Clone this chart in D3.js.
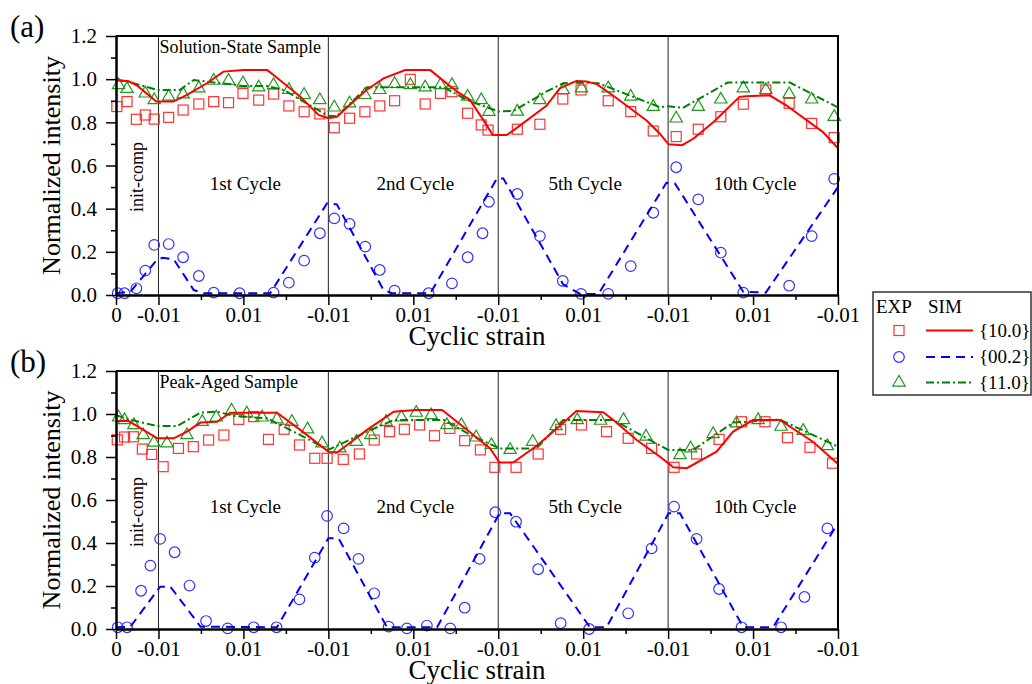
<!DOCTYPE html>
<html>
<head>
<meta charset="utf-8">
<script src="https://cdn.jsdelivr.net/npm/d3@7"></script>
<style>
body { margin: 0; background: #fff; }
text { font-family: "Liberation Serif", "Times New Roman", serif; }
</style>
</head>
<body>
<div id="chart"></div>
<script>
// x is the cumulative strain path (units of 0.01), y the normalized intensity
var xMajor = [0, 1, 3, 5, 7, 9, 11, 13, 15, 17];
var xLabels = ["0", "-0.01", "0.01", "-0.01", "0.01", "-0.01", "0.01", "-0.01", "0.01", "-0.01"];
var xMinor = [2, 4, 6, 8, 10, 12, 14, 16];
var cycleLines = [1, 5, 9, 13];
var cycleNames = ["1st Cycle", "2nd Cycle", "5th Cycle", "10th Cycle"];
var yMajor = [0, 0.2, 0.4, 0.6, 0.8, 1.0, 1.2];
var yMinor = [0.1, 0.3, 0.5, 0.7, 0.9, 1.1];

// (a) Solution-State Sample
var aExp10 = [[0.02,0.873],[0.26,0.896],[0.48,0.814],[0.69,0.834],[0.90,0.815],[1.24,0.823],[1.58,0.857],[1.95,0.885],[2.30,0.896],[2.65,0.891],[2.99,0.934],[3.36,0.903],[3.71,0.931],[4.07,0.876],[4.43,0.849],[4.80,0.839],[5.14,0.775],[5.50,0.819],[5.86,0.849],[6.21,0.876],[6.56,0.900],[6.93,0.999],[7.28,0.885],[7.64,0.934],[7.91,0.942],[8.28,0.842],[8.60,0.788],[8.76,0.764],[9.45,0.768],[9.98,0.791],[10.52,0.908],[10.95,0.950],[11.59,0.900],[12.12,0.850],[12.65,0.760],[13.19,0.734],[13.71,0.768],[14.24,0.826],[14.77,0.884],[15.30,0.950],[15.85,0.888],[16.38,0.795],[16.91,0.729]];
var aExp02 = [[0.04,0.008],[0.20,0.008],[0.48,0.031],[0.69,0.113],[0.90,0.232],[1.24,0.236],[1.58,0.175],[1.95,0.088],[2.30,0.011],[2.91,0.008],[3.71,0.011],[4.07,0.057],[4.43,0.159],[4.80,0.286],[5.14,0.355],[5.50,0.329],[5.87,0.224],[6.21,0.116],[6.56,0.020],[7.36,0.008],[7.91,0.054],[8.28,0.175],[8.63,0.286],[8.78,0.432],[9.45,0.468],[9.98,0.273],[10.52,0.065],[10.95,0.005],[11.59,0.005],[12.12,0.134],[12.65,0.381],[13.19,0.592],[13.71,0.443],[14.24,0.196],[14.77,0.011],[15.85,0.043],[16.38,0.273],[16.91,0.538]];
var aExp11 = [[0.06,0.973],[0.26,0.955],[0.69,0.934],[0.90,0.903],[1.24,0.919],[1.58,0.930],[1.95,0.958],[2.30,0.993],[2.65,0.993],[2.99,0.981],[3.36,0.962],[3.71,0.973],[4.07,0.950],[4.43,0.927],[4.80,0.903],[5.14,0.869],[5.50,0.888],[5.86,0.927],[6.21,0.950],[6.56,0.978],[6.93,0.973],[7.28,0.962],[7.64,0.973],[7.91,0.973],[8.28,0.919],[8.60,0.903],[8.78,0.849],[9.45,0.850],[9.98,0.903],[10.53,0.950],[10.96,0.958],[11.59,0.958],[12.12,0.919],[12.65,0.872],[13.19,0.818],[13.71,0.872],[14.24,0.906],[14.77,0.958],[15.30,0.950],[15.85,0.931],[16.38,0.906],[16.91,0.826]];
var aSim10 = [[0,0.996],[0.3,0.99],[0.5,0.97],[0.95,0.896],[1.35,0.896],[1.67,0.927],[2.14,0.981],[2.53,1.035],[3.0,1.042],[3.56,1.042],[3.71,1.019],[4.34,0.919],[4.77,0.834],[5.0,0.819],[5.2,0.826],[5.59,0.896],[5.9,0.950],[6.3,1.004],[6.81,1.042],[7.4,1.042],[8.03,0.942],[8.34,0.903],[8.70,0.795],[8.87,0.741],[9.20,0.741],[9.51,0.785],[10.14,0.878],[10.45,0.958],[10.84,0.992],[11.08,0.989],[11.32,0.977],[11.71,0.923],[12.50,0.807],[12.81,0.746],[13.01,0.698],[13.33,0.694],[13.60,0.725],[14.07,0.802],[14.68,0.918],[14.84,0.921],[15.39,0.925],[15.78,0.879],[16.64,0.756],[17,0.680]];
var aSim02 = [[0,0.008],[0.34,0.015],[0.97,0.165],[1.1,0.172],[1.36,0.165],[1.83,0.023],[2.06,0.008],[3.63,0.008],[4.97,0.425],[5.2,0.42],[6.3,0.023],[6.5,0.008],[7.4,0.008],[8.97,0.54],[9.12,0.54],[10.53,0.049],[10.93,0.005],[11.36,0.005],[12.96,0.52],[13.16,0.517],[14.77,0.015],[15.3,0.011],[17,0.50]];
var aSim11 = [[0,0.996],[0.3,0.988],[0.97,0.950],[1.5,0.950],[1.83,0.996],[2.3,0.985],[2.77,0.975],[2.99,0.968],[3.56,0.968],[3.95,0.950],[5.0,0.829],[5.2,0.829],[5.91,0.962],[7.72,0.962],[8.27,0.903],[9.01,0.850],[9.36,0.853],[10.14,0.943],[10.53,0.981],[10.96,0.984],[11.36,0.981],[12.81,0.870],[13.0,0.875],[13.35,0.867],[14.4,0.984],[15.87,0.984],[17,0.869]];

// (b) Peak-Aged Sample
var bExp10 = [[0.03,0.88],[0.2,0.893],[0.41,0.894],[0.62,0.837],[0.84,0.812],[1.11,0.755],[1.47,0.840],[1.82,0.848],[2.18,0.879],[2.54,0.902],[2.89,0.975],[3.24,0.988],[3.59,0.882],[3.96,0.929],[4.32,0.856],[4.68,0.794],[4.97,0.794],[5.35,0.789],[5.73,0.814],[6.08,0.879],[6.44,0.918],[6.79,0.929],[7.15,0.949],[7.50,0.899],[7.86,0.933],[8.21,0.876],[8.58,0.833],[8.92,0.752],[9.42,0.752],[9.94,0.814],[10.47,0.929],[10.96,0.949],[11.55,0.918],[12.06,0.887],[12.61,0.840],[13.14,0.752],[13.67,0.814],[14.20,0.882],[14.73,0.964],[15.28,0.964],[15.81,0.890],[16.34,0.845],[16.87,0.771]];
var bExp02 = [[0.04,0.008],[0.26,0.008],[0.59,0.178],[0.81,0.295],[1.04,0.419],[1.38,0.357],[1.73,0.202],[2.12,0.037],[2.63,0.003],[3.24,0.008],[3.78,0.008],[4.32,0.138],[4.68,0.332],[4.97,0.526],[5.36,0.468],[5.71,0.326],[6.08,0.166],[6.42,0.011],[6.85,0.003],[7.32,0.016],[7.87,0.003],[8.21,0.099],[8.56,0.326],[8.93,0.543],[9.42,0.499],[9.94,0.278],[10.47,0.027],[11.14,0.0],[12.06,0.073],[12.61,0.375],[13.14,0.569],[13.67,0.419],[14.20,0.186],[14.73,0.008],[15.66,0.008],[16.21,0.149],[16.75,0.468]];
var bExp11 = [[0.06,0.984],[0.20,0.972],[0.42,0.949],[0.64,0.902],[0.89,0.867],[1.20,0.864],[1.67,0.902],[2.03,0.964],[2.36,0.984],[2.72,1.016],[3.08,1.003],[3.44,0.984],[3.79,0.975],[4.14,0.964],[4.51,0.929],[4.85,0.864],[5.27,0.840],[5.66,0.871],[6.00,0.902],[6.36,0.964],[6.72,0.984],[7.07,1.006],[7.42,0.995],[7.79,0.949],[8.13,0.949],[8.48,0.891],[8.84,0.856],[9.28,0.833],[9.81,0.871],[10.36,0.944],[10.86,0.972],[11.41,0.969],[11.95,0.972],[12.48,0.895],[13.28,0.809],[13.53,0.840],[14.06,0.907],[14.61,0.957],[15.12,0.972],[15.66,0.941],[16.18,0.922],[16.75,0.851]];
var bSim10 = [[0,0.967],[0.3,0.967],[0.97,0.887],[1.36,0.887],[1.67,0.918],[1.99,0.960],[2.38,0.964],[2.69,1.006],[3.79,1.006],[4.34,0.926],[5.0,0.825],[5.2,0.820],[5.91,0.926],[6.54,1.011],[7.05,1.019],[7.68,1.019],[8.27,0.926],[8.81,0.840],[9.03,0.774],[9.35,0.774],[9.90,0.851],[10.45,0.944],[10.84,1.014],[11.47,1.008],[11.71,0.972],[12.26,0.879],[12.81,0.801],[13.03,0.767],[13.12,0.752],[13.44,0.748],[14.14,0.825],[14.53,0.918],[15.0,0.972],[15.63,0.972],[16.41,0.871],[17,0.767]];
var bSim02 = [[0,0.008],[0.34,0.011],[1.04,0.197],[1.28,0.197],[1.99,0.011],[3.79,0.008],[5.0,0.422],[5.24,0.422],[6.38,0.008],[7.56,0.008],[9.03,0.538],[9.28,0.538],[11.16,0.008],[11.55,0.008],[13.01,0.538],[13.28,0.538],[14.77,0.008],[15.47,0.008],[17,0.492]];
var bSim11 = [[0,0.995],[0.3,0.975],[0.97,0.944],[1.44,0.944],[1.99,1.006],[2.38,1.011],[2.77,0.991],[3.56,0.980],[4.34,0.902],[5.0,0.833],[5.91,0.918],[6.54,0.972],[7.72,0.972],[8.42,0.895],[9.04,0.840],[9.90,0.840],[10.53,0.972],[11.71,0.972],[13.0,0.833],[13.59,0.833],[14.53,0.960],[15.63,0.974],[17,0.848]];

var svgWidth = 1032;
var svgHeight = 684;
var plotLeft = 116;
var plotRight = 838;

var red = "#ff0000", blue = "#0000ff", green = "#008000";
var redMark = "#ff3333", blueMark = "#3333ff", greenMark = "#1f9a1f";

var svg = d3.select("#chart").append("svg")
    .attr("width", svgWidth)
    .attr("height", svgHeight)
    .style("background", "#fff");

var x = d3.scaleLinear().domain([0, 17]).range([plotLeft, plotRight]);

function drawPanel(p) {
    var y = d3.scaleLinear().domain([0, 1.2]).range([p.bottom, p.top]);
    var g = svg.append("g");

    // cycle separators
    g.selectAll(".sep")
        .data(cycleLines)
        .enter()
        .append("line")
        .attr("x1", d => x(d)).attr("x2", d => x(d))
        .attr("y1", p.top).attr("y2", p.bottom)
        .attr("stroke", "#222")
        .attr("stroke-width", 1);

    // markers
    var sq = 10;
    g.selectAll(".sq")
        .data(p.exp10)
        .enter()
        .append("rect")
        .attr("x", d => x(d[0]) - sq / 2)
        .attr("y", d => y(d[1]) - sq / 2)
        .attr("width", sq).attr("height", sq)
        .attr("fill", "none")
        .attr("stroke", redMark)
        .attr("stroke-width", 1.2);
    g.selectAll(".ci")
        .data(p.exp02)
        .enter()
        .append("circle")
        .attr("cx", d => x(d[0]))
        .attr("cy", d => y(d[1]))
        .attr("r", 5.3)
        .attr("fill", "none")
        .attr("stroke", blueMark)
        .attr("stroke-width", 1.2);
    var tri = d3.symbol().type(d3.symbolTriangle).size(66);
    g.selectAll(".tr")
        .data(p.exp11)
        .enter()
        .append("path")
        .attr("d", tri)
        .attr("transform", d => "translate(" + x(d[0]) + "," + y(d[1]) + ")")
        .attr("fill", "none")
        .attr("stroke", greenMark)
        .attr("stroke-width", 1.2);

    // simulation lines
    var line = d3.line().x(d => x(d[0])).y(d => y(d[1]));
    g.append("path").datum(p.sim11).attr("d", line)
        .attr("fill", "none").attr("stroke", green).attr("stroke-width", 2)
        .attr("stroke-dasharray", "8,3,2,3");
    g.append("path").datum(p.sim02).attr("d", line)
        .attr("fill", "none").attr("stroke", blue).attr("stroke-width", 2)
        .attr("stroke-dasharray", "9,6");
    g.append("path").datum(p.sim10).attr("d", line)
        .attr("fill", "none").attr("stroke", red).attr("stroke-width", 2);

    // axes
    g.append("g")
        .attr("transform", "translate(0," + p.bottom + ")")
        .call(d3.axisBottom(x).tickValues(xMajor).tickFormat((d, i) => xLabels[i]).tickSize(10).tickPadding(2).tickSizeOuter(0));
    g.append("g")
        .attr("transform", "translate(0," + p.bottom + ")")
        .call(d3.axisBottom(x).tickValues(xMinor).tickFormat("").tickSize(5).tickSizeOuter(0));
    g.append("g")
        .attr("transform", "translate(" + plotLeft + ",0)")
        .call(d3.axisLeft(y).tickValues(yMajor).tickFormat(d3.format(".1f")).tickSize(10).tickPadding(9).tickSizeOuter(0));
    g.append("g")
        .attr("transform", "translate(" + plotLeft + ",0)")
        .call(d3.axisLeft(y).tickValues(yMinor).tickFormat("").tickSize(5).tickSizeOuter(0));
    g.selectAll(".domain").attr("stroke", "#000").attr("stroke-width", 2);
    g.selectAll(".tick line").attr("stroke", "#000").attr("stroke-width", 1.5);
    g.selectAll(".tick text")
        .attr("fill", "#000")
        .style("font-size", "21px")
        .style("font-family", "'Liberation Serif', 'Times New Roman', serif");

    // top and right frame
    g.append("path")
        .attr("d", "M" + plotLeft + "," + p.top + "H" + plotRight + "V" + p.bottom)
        .attr("fill", "none")
        .attr("stroke", "#000")
        .attr("stroke-width", 2);

    // texts
    g.append("text")
        .attr("x", 10).attr("y", p.top + 1)
        .style("font-size", "31px")
        .text(p.tag);
    g.append("text")
        .attr("transform", "translate(60," + (p.top + p.bottom) / 2 + ") rotate(-90)")
        .style("text-anchor", "middle")
        .style("font-size", "26px")
        .text("Normalized intensity");
    g.append("text")
        .attr("x", (plotLeft + plotRight) / 2)
        .attr("y", p.bottom + 50)
        .style("text-anchor", "middle")
        .style("font-size", "27px")
        .text("Cyclic strain");
    g.append("text")
        .attr("x", x(1) + 1).attr("y", p.top + 17)
        .style("font-size", "18px")
        .text(p.title);
    g.append("text")
        .attr("transform", "translate(143," + (p.top + 141) + ") rotate(-90)")
        .style("text-anchor", "middle")
        .style("font-size", "18px")
        .text("init-comp");
    g.selectAll(".cyc")
        .data(cycleNames)
        .enter()
        .append("text")
        .attr("x", (d, i) => x(cycleLines[i] + 2) + 2)
        .attr("y", p.top + p.cycleY)
        .style("text-anchor", "middle")
        .style("font-size", "19px")
        .text(d => d);
}

drawPanel({tag: "(a)", title: "Solution-State Sample", top: 36, bottom: 295, cycleY: 154,
    exp10: aExp10, exp02: aExp02, exp11: aExp11, sim10: aSim10, sim02: aSim02, sim11: aSim11});
drawPanel({tag: "(b)", title: "Peak-Aged Sample", top: 371, bottom: 629, cycleY: 142,
    exp10: bExp10, exp02: bExp02, exp11: bExp11, sim10: bSim10, sim02: bSim02, sim11: bSim11});

// legend
var legendNames = ["{10.0}", "{00.2}", "{11.0}"];
var legendRows = [330.5, 357, 382.5];
var lg = svg.append("g");
lg.append("rect")
    .attr("x", 873).attr("y", 292)
    .attr("width", 158).attr("height", 103)
    .attr("fill", "#fff")
    .attr("stroke", "#333")
    .attr("stroke-width", 1.5);
lg.append("text").attr("x", 876).attr("y", 313).style("font-size", "19px").text("EXP");
lg.append("text").attr("x", 928).attr("y", 313).style("font-size", "19px").text("SIM");
lg.append("rect")
    .attr("x", 894).attr("y", legendRows[0] - 5).attr("width", 10).attr("height", 10)
    .attr("fill", "none").attr("stroke", redMark).attr("stroke-width", 1.2);
lg.append("circle")
    .attr("cx", 899).attr("cy", legendRows[1]).attr("r", 5.3)
    .attr("fill", "none").attr("stroke", blueMark).attr("stroke-width", 1.2);
lg.append("path")
    .attr("d", d3.symbol().type(d3.symbolTriangle).size(66))
    .attr("transform", "translate(899," + legendRows[2] + ")")
    .attr("fill", "none").attr("stroke", greenMark).attr("stroke-width", 1.2);
var legendStyles = [[red, null], [blue, "9,6"], [green, "8,3,2,3"]];
lg.selectAll(".ll")
    .data(legendRows)
    .enter()
    .append("line")
    .attr("x1", 926).attr("x2", 973)
    .attr("y1", d => d).attr("y2", d => d)
    .attr("stroke", (d, i) => legendStyles[i][0])
    .attr("stroke-width", 2)
    .attr("stroke-dasharray", (d, i) => legendStyles[i][1]);
lg.selectAll(".lt")
    .data(legendNames)
    .enter()
    .append("text")
    .attr("x", 979)
    .attr("y", (d, i) => legendRows[i] + 6)
    .style("font-size", "19px")
    .text(d => d);
</script>
</body>
</html>
